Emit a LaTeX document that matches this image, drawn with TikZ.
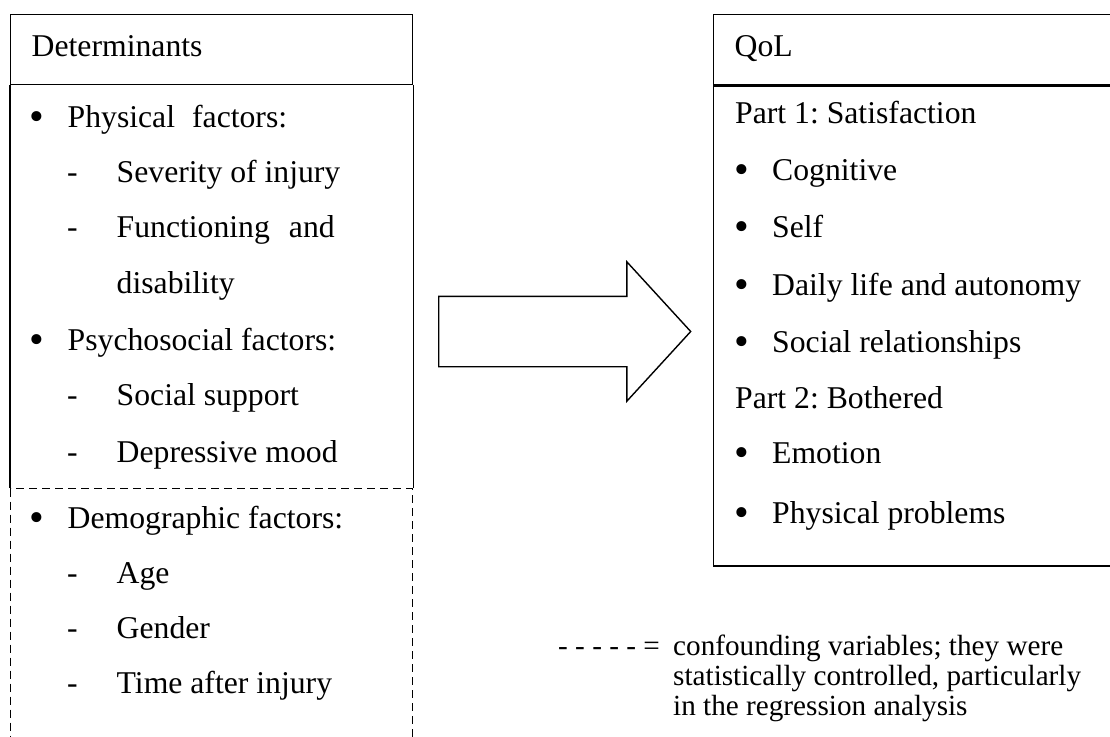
\documentclass[tikz,border=0pt]{standalone}
\usepackage{fontspec}
\setmainfont{Liberation Serif}
\usetikzlibrary{shapes.arrows}
\newcommand{\qbullet}{\raisebox{-3pt}{\fontsize{42}{42}\selectfont\textbullet}}

\begin{document}
\frenchspacing
\begin{tikzpicture}[
  x=1pt,y=-1pt,
  font=\fontsize{31.7}{38}\selectfont,
  frame/.style={draw,line width=1.4pt},
  confound/.style={draw,line width=1.4pt,dash pattern=on 8pt off 5pt},
  hdr/.style={frame,anchor=north west,minimum height=70pt,inner xsep=21pt,
              align=left,text height=22pt,text depth=8pt},
  entry/.style={anchor=base west,inner sep=0pt},
  note/.style={entry,font=\fontsize{29.2}{30}\selectfont},
  bigarrow/.style={frame,single arrow,single arrow head extend=34.5pt,
                   single arrow tip angle=95,minimum height=252pt,
                   inner xsep=0pt,inner ysep=34.5pt},
]
  \useasboundingbox (0,0) rectangle (1110,736);

  % determinants
  \node[hdr,text width=360pt] (detHead) at (10,14) {Determinants};
  \node[confound,anchor=north west,minimum width=402pt,minimum height=262pt] (detConf) at (10,488) {};
  \draw[frame] (detHead.south west) -- (detConf.north west)
               (detHead.south east) -- (detConf.north east);
  \foreach \mk/\mx/\tx/\yy/\txt [count=\i] in {
      \qbullet/29/67.5/127/{Physical\hspace{17pt}factors:},
      -/67/116.5/182/{Severity of injury},
      -/67/116.5/237/{Functioning\hspace{19pt}and},
      {}/67/116.5/293/disability,
      \qbullet/29/67.5/350/{Psychosocial factors:},
      -/67/116.5/405/{Social support},
      -/67/116.5/462/{Depressive mood},
      \qbullet/29/67.5/528/{Demographic factors:},
      -/67/116.5/583/Age,
      -/67/116.5/638/Gender,
      -/67/116.5/693/{Time after injury}}{
    \node[entry] (detMark\i) at (\mx,\yy) {\mk};
    \node[entry] (det\i) at (\tx,\yy) {\txt};
  }

  % quality of life
  \node[hdr,text width=368pt] (qolHead) at (713,14) {QoL};
  \node[frame,anchor=north west,minimum width=410pt,minimum height=480pt] (qolBody) at (qolHead.south west) {};
  \foreach \mk/\tx/\yy/\txt [count=\i] in {
      {}/735/123/{Part 1: Satisfaction},
      \qbullet/772/180/Cognitive,
      \qbullet/772/237/Self,
      \qbullet/772/295/{Daily life and autonomy},
      \qbullet/772/352/{Social relationships},
      {}/735/408/{Part 2: Bothered},
      \qbullet/772/463/Emotion,
      \qbullet/772/523/{Physical problems}}{
    \node[entry] (qolMark\i) at (734,\yy) {\mk};
    \node[entry] (qol\i) at (\tx,\yy) {\txt};
  }

  % block arrow
  \node[bigarrow,anchor=tail] (push) at (438,331.5) {};

  % legend
  \node[note] (key) at (558,655) {- - - - - =};
  \foreach \txt [count=\k] in {
      {confounding variables; they were},
      {statistically controlled, particularly},
      {in the regression analysis}}
    \node[note] (keyTxt\k) at (673,625+30*\k) {\txt};
\end{tikzpicture}
\end{document}
